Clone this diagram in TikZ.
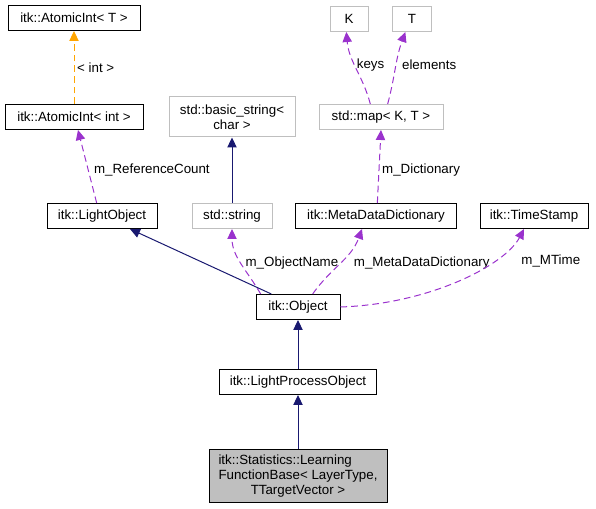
\documentclass[tikz,border=0pt]{standalone}
\usepackage{fontspec}
\setmainfont{Liberation Sans}
\usepackage{tikz}
\usetikzlibrary{arrows.meta}
\definecolor{inhblue}{HTML}{191970}
\definecolor{usepurple}{HTML}{9A32CD}
\definecolor{tplorange}{HTML}{FFA500}
\definecolor{extgray}{HTML}{BFBFBF}
\tikzset{
  cls/.style={draw=black, fill=white, line width=0.75pt, inner sep=0pt,
    minimum height=18.75pt, font=\fontsize{10}{11.25}\selectfont},
  extcls/.style={cls, draw=extgray},
  tip/.style={-{Triangle[length=7.5pt,width=7pt]}},
  inh/.style={tip, draw=inhblue, line width=0.75pt},
  usage/.style={tip, draw=usepurple, line width=0.75pt, dash pattern=on 5pt off 3pt},
  tpl/.style={tip, draw=tplorange, line width=0.75pt, dash pattern=on 5pt off 3pt},
  lbl/.style={font=\fontsize{10}{11.25}\selectfont, inner sep=2pt, text=black}
}
\begin{document}
\begin{tikzpicture}[x=0.75pt,y=-0.75pt]
\useasboundingbox (0,0) rectangle (596,509);
% classes
\node[cls, minimum width=99pt] (atomicT) at (74,18) {itk::AtomicInt< T >};
\node[cls, minimum width=103.5pt] (atomicInt) at (74,117) {itk::AtomicInt< int >};
\node[cls, minimum width=82.5pt] (lightObj) at (102,216) {itk::LightObject};
\node[extcls, minimum width=94.5pt, minimum height=30pt, align=center] (basicStr) at (232,117) {std::basic\_string<\\char >};
\node[extcls, minimum width=60pt] (stdStr) at (232,216) {std::string};
\node[extcls, minimum width=28.5pt] (keyK) at (349,19) {K};
\node[extcls, minimum width=29.25pt] (valT) at (412,19) {T};
\node[extcls, minimum width=93pt] (stdMap) at (381,117) {std::map< K, T >};
\node[cls, minimum width=120.75pt] (metaDict) at (376,216) {itk::MetaDataDictionary};
\node[cls, minimum width=81pt] (timeStamp) at (534,216) {itk::TimeStamp};
\node[cls, minimum width=63pt] (itkObj) at (298,307) {itk::Object};
\node[cls, minimum width=117.75pt] (lightProc) at (298,382) {itk::LightProcessObject};
\node[cls, fill=extgray, minimum width=133.5pt, minimum height=39.75pt] (learnFn) at (298,476)
  {\begin{tabular}{@{}l@{}}itk::Statistics::Learning\\FunctionBase< LayerType,\\\multicolumn{1}{@{}c@{}}{TTargetVector >}\end{tabular}};
% inheritance
\draw[inh] (learnFn.north) -- (lightProc.south);
\draw[inh] (lightProc.north) -- (itkObj.south);
\draw[inh] ([xshift=-20pt]itkObj.north) -- ([xshift=21pt]lightObj.south);
\draw[inh] (stdStr.north) -- (basicStr.south);
% template
\draw[tpl] (atomicInt.north) -- (atomicT.south) node[lbl, midway, right] (lblInt) {< int >};
% members
\draw[usage] ([xshift=-4pt]lightObj.north) -- ([xshift=3pt]atomicInt.south)
  node[lbl, pos=0.45, right, xshift=2pt] (lblRef) {m\_ReferenceCount};
\draw[usage] ([xshift=-28pt]itkObj.north) to[out=120,in=-90]
  node[lbl, pos=0.5, right, xshift=1pt] (lblName) {m\_ObjectName} (stdStr.south);
\draw[usage] ([xshift=11pt]itkObj.north) to[out=55,in=-110]
  node[lbl, pos=0.5, right, xshift=8pt] (lblMeta) {m\_MetaDataDictionary} ([xshift=-10.5pt]metaDict.south);
\draw[usage] (itkObj.east) .. controls (430,304) and (505,265) .. ([xshift=-7.5pt]timeStamp.south)
  node[lbl, pos=0.7, right, xshift=19pt] (lblTime) {m\_MTime};
\draw[usage] ([xshift=1pt]metaDict.north) -- (stdMap.south)
  node[lbl, pos=0.45, right] (lblDict) {m\_Dictionary};
\draw[usage] ([xshift=-8pt]stdMap.north) to[out=105,in=-85]
  node[lbl, pos=0.55, right, xshift=-1pt] (lblKeys) {keys} ([xshift=-2pt]keyK.south);
\draw[usage] ([xshift=5pt]stdMap.north) to[out=75,in=-110]
  node[lbl, pos=0.55, right, xshift=2pt] (lblElem) {elements} ([xshift=-5pt]valT.south);
\end{tikzpicture}
\end{document}
